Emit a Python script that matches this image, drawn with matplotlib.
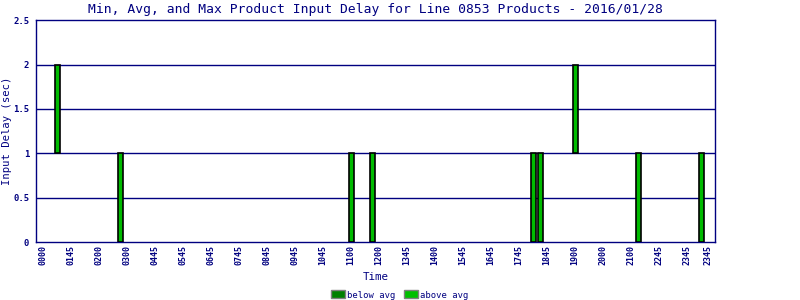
import matplotlib
matplotlib.use("Agg")
import matplotlib.pyplot as plt
from matplotlib.patches import Patch

# ---- data ----
slot_index = [2, 11, 44, 47, 70, 71, 76, 85, 94]          # 15-minute slot of each product group
delay_min = [1, 0, 0, 0, 0, 0, 1, 0, 0]
delay_max = [2, 1, 1, 1, 1, 1, 2, 1, 1]
tick_slots = [0, 4, 8, 12, 16, 20, 24, 28, 32, 36, 40, 44, 48, 52, 56, 60, 64, 68, 72, 76, 80, 84, 88, 92, 95]
tick_labels = ["0000", "0145", "0200", "0300", "0445", "0545", "0645", "0745", "0845", "0945",
               "1045", "1100", "1200", "1345", "1400", "1545", "1645", "1745", "1845", "1900",
               "2000", "2100", "2245", "2345", "2345"]
y_ticks = [0, 0.5, 1, 1.5, 2, 2.5]
y_tick_labels = ["0", "0.5", "1", "1.5", "2", "2.5"]

NAVY = "#000080"
plt.rcParams['font.family'] = ['DejaVu Sans Mono']

fig = plt.figure(figsize=(8, 3), dpi=100)
ax = fig.add_axes([36.3/800, 1-242/300, (715-36.3)/800, (242-20.3)/300])

heights = [mx - mn for mn, mx in zip(delay_min, delay_max)]
ax.bar([s + 0.1 for s in slot_index], heights, bottom=delay_min, width=0.62, color="#00BB00",
       edgecolor="black", linewidth=1.2, zorder=3)

ax.set_xlim(-0.914, 96.04)
ax.set_ylim(0, 2.5)
ax.set_yticks(y_ticks)
ax.set_yticklabels(y_tick_labels, fontsize=6.4, color=NAVY, fontweight="bold")
ax.set_xticks(tick_slots)
ax.set_xticklabels(tick_labels, rotation=90, fontsize=6.0, color=NAVY, fontweight="bold")
ax.tick_params(axis="both", length=0, pad=2.5)
ax.tick_params(axis="y", pad=5)

for y in y_ticks[1:-1]:
    ax.axhline(y, color=NAVY, linewidth=1.0, zorder=1)
for s in ax.spines.values():
    s.set_color(NAVY)
    s.set_linewidth(1.0)

ax.set_title("Min, Avg, and Max Product Input Delay for Line 0853 Products - 2016/01/28",
             fontsize=9.4, color=NAVY, pad=5)
ax.set_ylabel("Input Delay (sec)", fontsize=7.6, color=NAVY, labelpad=1)
fig.text(375.5/800, 1-277/300, "Time", fontsize=7.8, color=NAVY, ha="center", va="center")

handles = [Patch(facecolor="#008000", edgecolor="#808080", linewidth=1, label="below avg"),
           Patch(facecolor="#00C000", edgecolor="#808080", linewidth=1, label="above avg")]
fig.legend(handles=handles, loc="center", bbox_to_anchor=(400/800, 1-295/300), ncol=2,
           frameon=False, fontsize=6.4, handlelength=1.5, handleheight=1.0,
           handletextpad=0.3, columnspacing=1.0, labelcolor=NAVY, borderpad=0)

fig.savefig("out.png", dpi=100)
